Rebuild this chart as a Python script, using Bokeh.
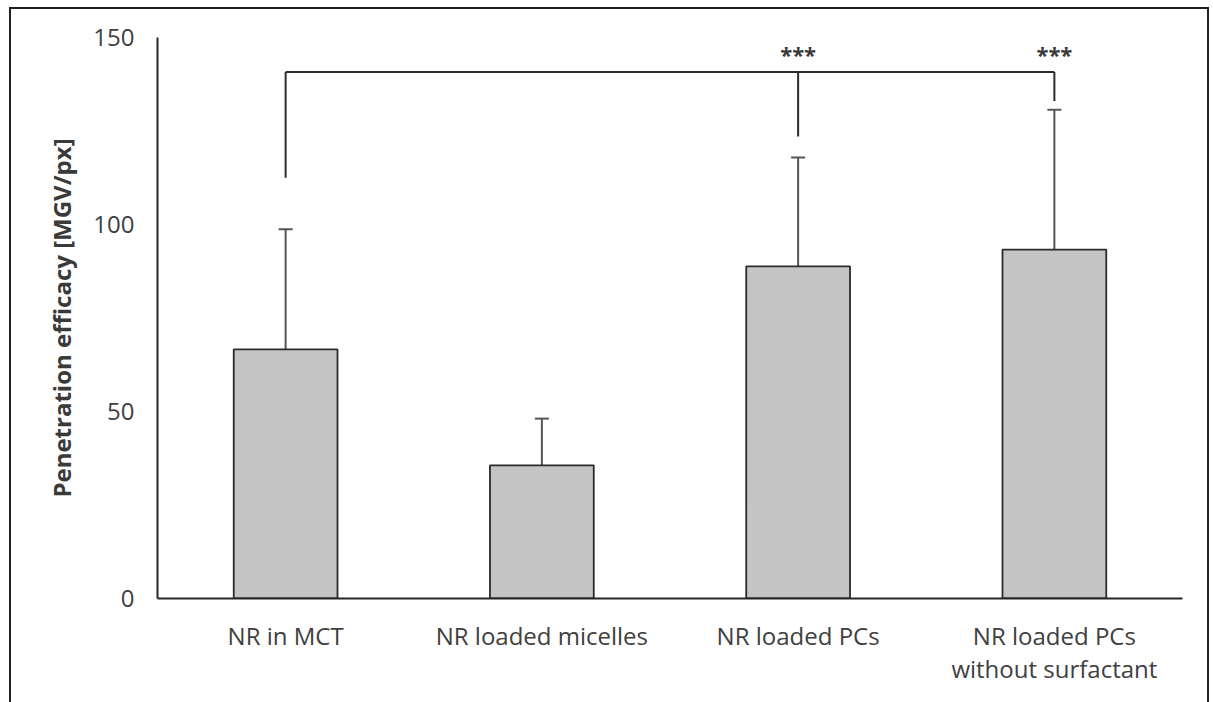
from bokeh.plotting import figure
from bokeh.models import FactorRange, Range1d, ColumnDataSource, Whisker, TeeHead
from bokeh.core.properties import value
from bokeh.embed import file_html
from bokeh.resources import INLINE

# ---- data ----
categories = ["NR in MCT", "NR loaded micelles", "NR loaded PCs",
              "NR loaded PCs\nwithout surfactant"]
means = [66.6, 35.6, 88.8, 93.3]
sds = [32.1, 12.5, 29.1, 37.4]
y_ticks = [0, 50, 100, 150]

# significance bracket (reference group = first category)
bracket_level = 140.8
bracket_categories = ["NR in MCT", "NR loaded PCs", "NR loaded PCs\nwithout surfactant"]
bracket_leg_ends = [112.5, 123.5, 133.0]
sig_categories = ["NR loaded PCs", "NR loaded PCs\nwithout surfactant"]
sig_labels = ["***", "***"]
sig_level = 145.5

FONT = "Open Sans"
TEXT_COL = "#404040"

src = ColumnDataSource(dict(cat=categories, mean=means,
                            upper=[m + s for m, s in zip(means, sds)]))

p = figure(x_range=FactorRange(*categories, range_padding=0),
           y_range=Range1d(0, 150),
           width=1200, height=695,
           output_backend="svg", toolbar_location=None,
           min_border_left=146, min_border_right=29,
           min_border_top=28, min_border_bottom=106)
p.styles = {"border-top": "2px solid #222", "border-left": "2px solid #222",
            "border-right": "2px solid #222",
            "margin-left": "9px", "margin-top": "7px"}
p.outline_line_color = None
p.xgrid.visible = False
p.ygrid.visible = False

p.vbar(x="cat", top="mean", bottom=0, width=0.405, source=src,
       fill_color="#c4c4c4", line_color="#2b2b2b", line_width=1.8)

w = Whisker(base="cat", upper="upper", lower="mean", source=src,
            line_color="#555555", line_width=2,
            upper_head=TeeHead(size=14, line_color="#555555", line_width=2),
            lower_head=None)
p.add_layout(w)

# bracket
p.segment(x0=[bracket_categories[0]], x1=[bracket_categories[-1]],
          y0=[bracket_level], y1=[bracket_level],
          line_color="#2b2b2b", line_width=2)
p.segment(x0=bracket_categories, x1=bracket_categories,
          y0=bracket_leg_ends, y1=[bracket_level] * len(bracket_categories),
          line_color="#2b2b2b", line_width=2)
p.text(x=sig_categories, y=[sig_level] * len(sig_labels), text=sig_labels,
       text_font=value(FONT), text_font_size="22px", text_font_style="bold",
       text_color="#3a3a3a", text_align="center", text_baseline="middle")

# axes
for ax in (p.xaxis, p.yaxis):
    ax.axis_line_color = "#262626"
    ax.axis_line_width = 2
    ax.major_tick_line_color = None
    ax.minor_tick_line_color = None
    ax.major_label_text_font = FONT
    ax.major_label_text_color = TEXT_COL
    ax.major_label_text_font_size = "24px"

p.yaxis.ticker = y_ticks
p.yaxis.major_label_standoff = 17
p.yaxis.axis_label = "Penetration efficacy [MGV/px]"
p.yaxis.axis_label_text_font = FONT
p.yaxis.axis_label_text_font_style = "bold"
p.yaxis.axis_label_text_font_size = "24px"
p.yaxis.axis_label_text_color = "#3a3a3a"
p.yaxis.axis_label_standoff = 12

p.xaxis.major_label_standoff = 14
p.xaxis.major_label_text_line_height = 1.0

open("out.html", "w").write(file_html(p, INLINE))
